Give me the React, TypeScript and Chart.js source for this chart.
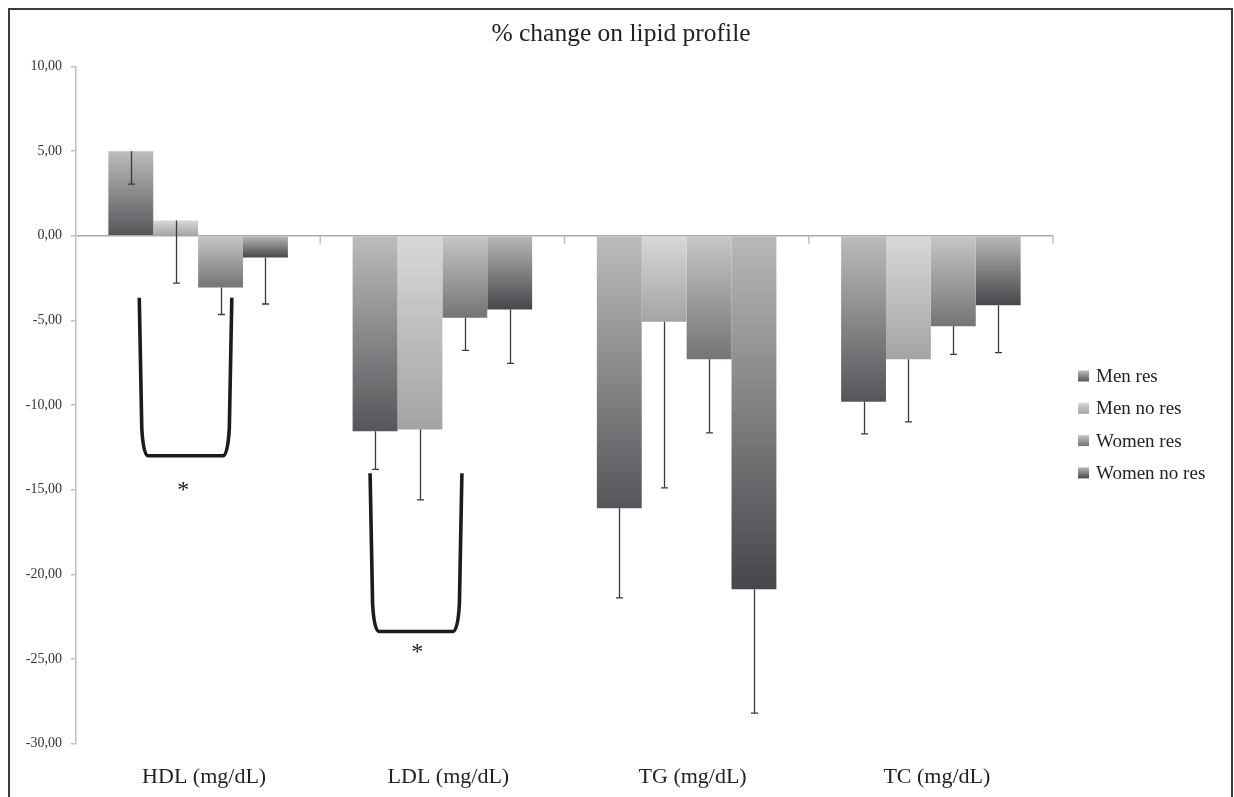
import React, { useEffect, useRef } from 'react';
import { Chart, registerables } from 'chart.js';

Chart.register(...registerables);

// ---------- data ----------
const categories = ['HDL (mg/dL)', 'LDL (mg/dL)', 'TG (mg/dL)', 'TC (mg/dL)'];
const seriesNames = ['Men res', 'Men no res', 'Women res', 'Women no res'];

const menRes = [5.0, -11.55, -16.1, -9.8];
const menNoRes = [0.9, -11.45, -5.08, -7.3];
const womenRes = [-3.05, -4.84, -7.3, -5.35];
const womenNoRes = [-1.28, -4.35, -20.88, -4.1];

// end value of each (one-sided, downward) error bar
const menResErrEnd = [3.05, -13.8, -21.4, -11.7];
const menNoResErrEnd = [-2.8, -15.6, -14.9, -11.0];
const womenResErrEnd = [-4.65, -6.77, -11.65, -7.0];
const womenNoResErrEnd = [-4.03, -7.54, -28.2, -6.9];

const yMin = -30;
const yMax = 10;
const yStep = 5;

// significance brackets (x as fractional category index, y as values)
const bracketLeft = [-0.241, 0.704];
const bracketRight = [0.138, 1.08];
const bracketTop = [-3.66, -14.03];
const bracketBottom = [-13.0, -23.38];
const starX = [-0.061, 0.897];
const starY = [-14.8, -24.36];
const starText = ['*', '*'];

const titleText = '% change on lipid profile';

// ---------- styles ----------
const FONT = '"Liberation Serif", "Times New Roman", Times, serif';
const gradTop = ['#babcbd', '#d7d9d8', '#c5c6c6', '#b6b8b9'];
const gradBottom = ['#545659', '#a2a4a5', '#737476', '#45474a'];

const values = [menRes, menNoRes, womenRes, womenNoRes];
const errEnds = [menResErrEnd, menNoResErrEnd, womenResErrEnd, womenNoResErrEnd];

const W = 1226;
const H = 789;

function barGradient(ctx: any, d: number) {
  const chart = ctx.chart;
  if (!chart.chartArea || !chart.scales || !chart.scales.y) return gradTop[d];
  const y = chart.scales.y;
  const v = typeof ctx.raw === 'number' ? ctx.raw : 0;
  const yTopPx = y.getPixelForValue(Math.max(v, 0));
  const yBotPx = y.getPixelForValue(Math.min(v, 0));
  const g = chart.ctx.createLinearGradient(0, yTopPx, 0, Math.max(yBotPx, yTopPx + 1));
  g.addColorStop(0, gradTop[d]);
  g.addColorStop(1, gradBottom[d]);
  return g;
}

const decorPlugin = {
  id: 'decor',
  beforeDraw(chart: any) {
    const { ctx } = chart;
    ctx.save();
    ctx.fillStyle = '#ffffff';
    ctx.fillRect(0, 0, chart.width, chart.height);
    ctx.restore();
  },
  beforeDatasetsDraw(chart: any) {
    // x-axis tick marks hanging below the zero line at category boundaries
    const { ctx } = chart;
    const x = chart.scales.x;
    const y = chart.scales.y;
    const zy = y.getPixelForValue(0);
    ctx.save();
    ctx.strokeStyle = '#c0c0c0';
    ctx.lineWidth = 1.5;
    for (let i = 0; i < categories.length; i++) {
      const px = x.getPixelForValue(i + 0.5);
      ctx.beginPath();
      ctx.moveTo(px, zy);
      ctx.lineTo(px, zy + 8);
      ctx.stroke();
    }
    ctx.restore();
  },
  afterDatasetsDraw(chart: any) {
    const { ctx } = chart;
    const x = chart.scales.x;
    const y = chart.scales.y;

    // error bars
    ctx.save();
    ctx.strokeStyle = '#3a3a3a';
    ctx.lineWidth = 1.3;
    for (let d = 0; d < values.length; d++) {
      const meta = chart.getDatasetMeta(d);
      meta.data.forEach((bar: any, i: number) => {
        const bx = Math.round(bar.x) + 0.5;
        const y0 = bar.y;
        const y1 = y.getPixelForValue(errEnds[d][i]);
        ctx.beginPath();
        ctx.moveTo(bx, y0);
        ctx.lineTo(bx, y1);
        ctx.moveTo(bx - 3.5, y1);
        ctx.lineTo(bx + 3.5, y1);
        ctx.stroke();
      });
    }
    ctx.restore();

    // significance brackets
    ctx.save();
    ctx.strokeStyle = '#1c1c1c';
    ctx.lineWidth = 3.6;
    ctx.lineJoin = 'round';
    ctx.lineCap = 'butt';
    for (let b = 0; b < bracketLeft.length; b++) {
      const l = x.getPixelForValue(bracketLeft[b]);
      const r = x.getPixelForValue(bracketRight[b]);
      const t = y.getPixelForValue(bracketTop[b]);
      const bt = y.getPixelForValue(bracketBottom[b]);
      ctx.beginPath();
      ctx.moveTo(l, t);
      ctx.lineTo(l + 2.5, bt - 28);
      ctx.quadraticCurveTo(l + 4, bt, l + 9, bt);
      ctx.lineTo(r - 9, bt);
      ctx.quadraticCurveTo(r - 4, bt, r - 2.5, bt - 28);
      ctx.lineTo(r, t);
      ctx.stroke();
    }
    ctx.restore();

    // asterisks
    ctx.save();
    ctx.fillStyle = '#1c1c1c';
    ctx.font = `24px ${FONT}`;
    ctx.textAlign = 'center';
    ctx.textBaseline = 'alphabetic';
    for (let s = 0; s < starX.length; s++) {
      const px = x.getPixelForValue(starX[s]);
      const py = y.getPixelForValue(starY[s]);
      ctx.fillText(starText[s], px, py + 0.46 * 24);
    }
    ctx.restore();
  },
  afterDraw(chart: any) {
    const { ctx } = chart;
    // legend
    const swX = 1070;
    const swSize = 11;
    const textX = 1088;
    const firstY = 368;
    const gap = 32.3;
    ctx.save();
    ctx.font = `19px ${FONT}`;
    ctx.textAlign = 'left';
    ctx.textBaseline = 'middle';
    for (let d = 0; d < seriesNames.length; d++) {
      const cy = firstY + d * gap;
      const g = ctx.createLinearGradient(0, cy - swSize / 2, 0, cy + swSize / 2);
      g.addColorStop(0, gradTop[d]);
      g.addColorStop(1, gradBottom[d]);
      ctx.fillStyle = g;
      ctx.fillRect(swX, cy - swSize / 2, swSize, swSize);
      ctx.fillStyle = '#222222';
      ctx.fillText(seriesNames[d], textX, cy + 1);
    }
    ctx.restore();

    // outer frame (left, top, right)
    ctx.save();
    ctx.strokeStyle = '#3c3c3c';
    ctx.lineWidth = 2;
    ctx.beginPath();
    ctx.moveTo(1, chart.height);
    ctx.lineTo(1, 1);
    ctx.lineTo(1224, 1);
    ctx.lineTo(1224, chart.height);
    ctx.stroke();
    ctx.restore();
  },
};

export default function App() {
  const ref = useRef<HTMLCanvasElement | null>(null);

  useEffect(() => {
    const canvas = ref.current;
    if (!canvas) return;

    const chart = new Chart(canvas, {
      type: 'bar',
      data: {
        labels: categories,
        datasets: seriesNames.map((name, d) => ({
          label: name,
          data: values[d],
          backgroundColor: (c: any) => barGradient(c, d),
          borderWidth: 0,
          barPercentage: 1,
          categoryPercentage: 0.735,
          yAxisID: 'y',
        })),
      },
      options: {
        responsive: false,
        animation: false,
        devicePixelRatio: 1,
        layout: { padding: { left: 0, right: 0, top: 0, bottom: 0 } },
        plugins: {
          legend: { display: false },
          tooltip: { enabled: false },
          title: {
            display: true,
            text: titleText,
            color: '#222222',
            font: { family: FONT, size: 25.5, weight: 'normal' },
            padding: { top: 11, bottom: 17 },
          },
        },
        scales: {
          x: {
            type: 'category',
            offset: true,
            grid: { display: false, drawTicks: false },
            border: { display: false },
            ticks: {
              color: '#222222',
              font: { family: FONT, size: 22 },
              padding: 21,
              labelOffset: 6,
              maxRotation: 0,
            },
            afterFit: (s: any) => {
              s.height = 53.5;
            },
          },
          y: {
            min: yMin,
            max: yMax,
            ticks: {
              stepSize: yStep,
              color: '#333333',
              font: { family: FONT, size: 14 },
              padding: 9,
              callback: (v: any) => Number(v).toFixed(2).replace('.', ','),
            },
            grid: {
              drawOnChartArea: true,
              color: (c: any) => (c.tick && c.tick.value === 0 ? '#a9a9a9' : 'rgba(0,0,0,0)'),
              lineWidth: 1.5,
              drawTicks: true,
              tickLength: 5,
              tickColor: '#c0c0c0',
              tickWidth: 1.5,
            },
            border: { display: true, color: '#c0c0c0', width: 1.5 },
            afterFit: (s: any) => {
              s.width = 68;
            },
          },
          legendSpace: {
            type: 'linear',
            position: 'right',
            display: true,
            grid: { display: false, drawTicks: false },
            border: { display: false },
            ticks: { display: false },
            afterFit: (s: any) => {
              s.width = 181;
            },
          },
        },
      },
      plugins: [decorPlugin],
    } as any);

    return () => {
      chart.destroy();
    };
  }, []);

  return (
    <div style={{ position: 'fixed', left: 8, top: 8, width: W, height: H }}>
      <canvas
        ref={ref}
        width={W}
        height={H}
        style={{ display: 'block', width: W, height: H }}
      />
    </div>
  );
}
